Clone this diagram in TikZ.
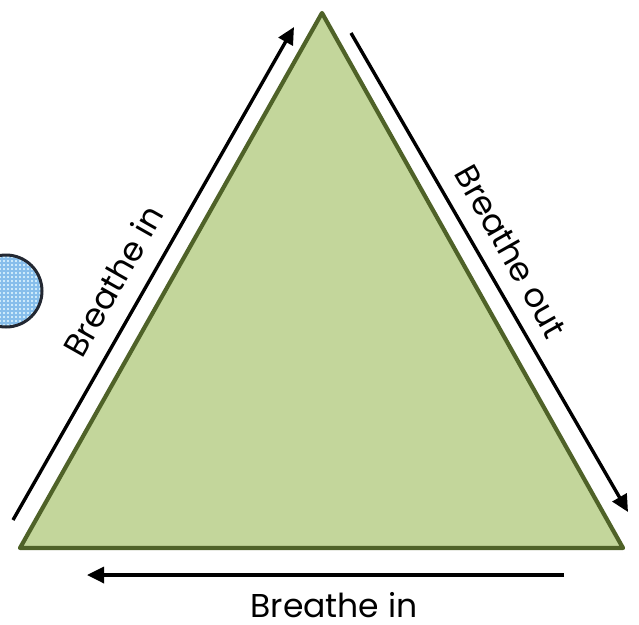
\documentclass[tikz,border=0pt]{standalone}
\usepackage{fontspec}
\setmainfont{Poppins}
\usepackage{tikz}
\usetikzlibrary{arrows.meta,positioning,calc}
\definecolor{leafgreen}{RGB}{195,214,155}
\definecolor{olivedge}{RGB}{79,98,40}
\definecolor{dotblue}{RGB}{205,234,250}
\definecolor{gridblue}{RGB}{135,190,235}
\definecolor{rimgray}{RGB}{35,40,50}

\begin{document}
\begin{tikzpicture}[x=1pt,y=-1pt,
    every node/.style={font=\fontsize{33}{36}\selectfont},
    breath/.style={line width=3.4pt,-{Triangle[length=17pt,width=16pt]}},
    lung/.style={circle,minimum size=72pt,inner sep=0pt,fill=dotblue,draw=rimgray,line width=3pt}]
        \useasboundingbox (0,0) rectangle (639,624);
        % triangle
        \coordinate (top) at (322,13);
        \coordinate (bl) at (20,548);
        \coordinate (br) at (623,548);
        \draw[line width=4.2pt,line join=round,draw=olivedge,fill=leafgreen]
          (top) -- (br) -- (bl) -- cycle;
        % bubble on the left
        \node[lung,path picture={
            \foreach \g in {-40,-36,...,40}{
              \draw[gridblue,line width=1.3pt] ($(path picture bounding box.center)+(\g,-40)$) -- ++(0,80);
              \draw[gridblue,line width=1.3pt] ($(path picture bounding box.center)+(-40,\g)$) -- ++(80,0);
            }}] (bubble) at (6,291) {};
        % arrows
        \coordinate (inlow) at (13,520);
        \coordinate (inhigh) at (294,27);
        \coordinate (outhigh) at (351,33);
        \coordinate (outlow) at (628,512);
        \coordinate (baseright) at (564,575);
        \coordinate (baseleft) at (87,575);
        \draw[breath] (inlow) -- (inhigh);
        \draw[breath] (outhigh) -- (outlow);
        \draw[breath] (baseright) -- (baseleft);
        \node[rotate=60.5] (inlabel) at (113,281) {Breathe in};
        \node[rotate=-60.5] (outlabel) at (511,251) {Breathe out};
        \node[anchor=base,inner sep=0pt] (baselabel) at (334,617) {Breathe in};
      \end{tikzpicture}
\end{document}
